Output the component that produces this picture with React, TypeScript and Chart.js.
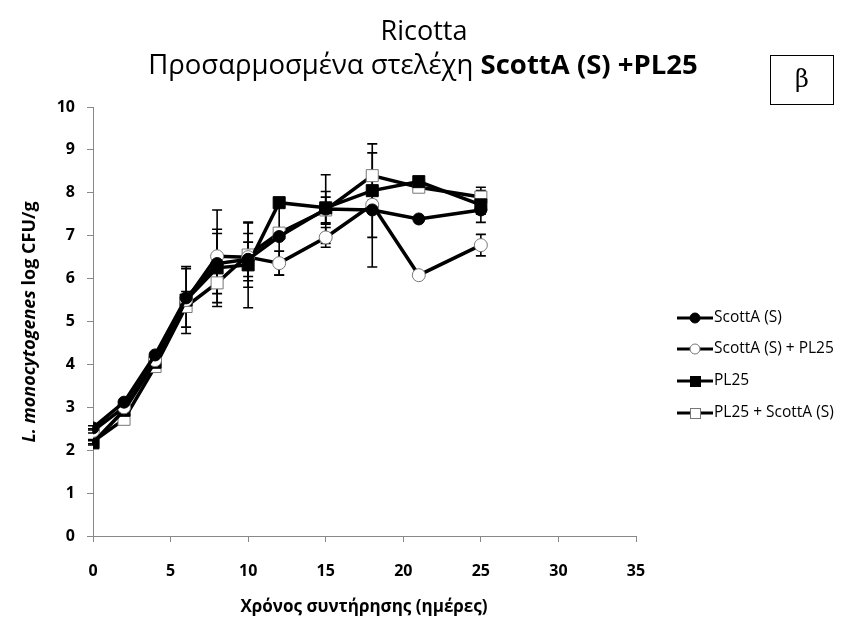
import React, { useEffect, useRef } from "react";
import { Chart, registerables } from "chart.js";
Chart.register(...registerables);

const days = [0, 2, 4, 6, 8, 10, 12, 15, 18, 21, 25];

const scottA = [2.52, 3.12, 4.22, 5.55, 6.35, 6.45, 6.98, 7.62, 7.6, 7.39, 7.6];
const scottASD = [0.05, 0.05, 0.05, 0.68, 0.7, 0.4, 0.9, 0.8, 1.33, 0, 0.1];

const scottAPL25 = [2.45, 3.0, 4.1, 5.5, 6.52, 6.5, 6.36, 6.96, 7.72, 6.08, 6.78];
const scottAPL25SD = [0.05, 0.05, 0.05, 0.2, 1.08, 0.55, 0.28, 0.23, 0.1, 0, 0.25];

const pl25 = [2.17, 2.93, 4.05, 5.5, 6.25, 6.32, 7.77, 7.65, 8.05, 8.26, 7.72];
const pl25SD = [0.05, 0.05, 0.05, 0.78, 0.9, 1.0, 0.05, 0.38, 1.09, 0, 0.41];

const pl25S = [2.2, 2.72, 3.95, 5.35, 5.9, 6.55, 7.06, 7.6, 8.4, 8.13, 7.9];
const pl25SSD = [0.05, 0.05, 0.05, 0.13, 0.1, 0.75, 0.05, 0.3, 0.1, 0, 0.15];

const seriesLabels = ["ScottA (S)", "ScottA (S) + PL25", "PL25", "PL25 + ScottA (S)"];
const titleLine1 = "Ricotta";
const titleLine2a = "Προσαρμοσμένα στελέχη ";
const titleLine2b = "ScottA (S) +PL25";
const yTitleA = "L. monocytogenes ";
const yTitleB = "log CFU/g";
const xTitle = "Χρόνος συντήρησης (ημέρες)";
const panelLabel = "β";

const FONT = "'Open Sans', 'Noto Sans', sans-serif";

const errorBarPlugin = {
  id: "errorBars",
  beforeDatasetsDraw(chart: any) {
    const ctx = chart.ctx;
    const xs = chart.scales.x;
    const ys = chart.scales.y;
    ctx.save();
    ctx.strokeStyle = "#000";
    ctx.lineWidth = 1.6;
    chart.data.datasets.forEach((ds: any) => {
      const sd: number[] = ds.sd || [];
      ds.data.forEach((p: any, i: number) => {
        const e = sd[i];
        if (!e) return;
        const px = xs.getPixelForValue(p.x);
        const top = ys.getPixelForValue(p.y + e);
        const bot = ys.getPixelForValue(p.y - e);
        ctx.beginPath();
        ctx.moveTo(px, top);
        ctx.lineTo(px, bot);
        ctx.moveTo(px - 5, top);
        ctx.lineTo(px + 5, top);
        ctx.moveTo(px - 5, bot);
        ctx.lineTo(px + 5, bot);
        ctx.stroke();
      });
    });
    ctx.restore();
  },
};

const decorPlugin = {
  id: "decor",
  afterDraw(chart: any) {
    const ctx = chart.ctx;
    ctx.save();
    ctx.fillStyle = "#000";
    ctx.textBaseline = "middle";
    // Title
    ctx.textAlign = "center";
    ctx.font = `27px ${FONT}`;
    ctx.fillText(titleLine1, 424, 32);
    ctx.font = `27.5px ${FONT}`;
    const wa = ctx.measureText(titleLine2a).width;
    ctx.font = `bold 27.5px ${FONT}`;
    const wb = ctx.measureText(titleLine2b).width;
    const start = 423 - (wa + wb) / 2;
    ctx.textAlign = "left";
    ctx.font = `27.5px ${FONT}`;
    ctx.fillText(titleLine2a, start, 66);
    ctx.font = `bold 27.5px ${FONT}`;
    ctx.fillText(titleLine2b, start + wa, 66);

    // panel label box
    ctx.strokeStyle = "#000";
    ctx.lineWidth = 1;
    ctx.strokeRect(770.5, 55.5, 63, 49);
    ctx.textAlign = "center";
    ctx.font = `24px 'DejaVu Serif', serif`;
    ctx.fillText(panelLabel, 802, 81);

    // Y title
    ctx.save();
    ctx.translate(30, 322);
    ctx.rotate(-Math.PI / 2);
    ctx.font = `italic bold 18px ${FONT}`;
    const ya = ctx.measureText(yTitleA).width;
    ctx.font = `bold 18px ${FONT}`;
    const yb = ctx.measureText(yTitleB).width;
    const ys0 = -(ya + yb) / 2;
    ctx.textAlign = "left";
    ctx.font = `italic bold 18px ${FONT}`;
    ctx.fillText(yTitleA, ys0, 0);
    ctx.font = `bold 18px ${FONT}`;
    ctx.fillText(yTitleB, ys0 + ya, 0);
    ctx.restore();

    // X title
    ctx.textAlign = "center";
    ctx.font = `bold 17px ${FONT}`;
    ctx.fillText(xTitle, 364, 607);

    // Legend
    const ly = [318, 349, 381, 413];
    chart.data.datasets.forEach((ds: any, i: number) => {
      const y = ly[i];
      ctx.strokeStyle = "#000";
      ctx.lineWidth = 3;
      ctx.beginPath();
      ctx.moveTo(677, y);
      ctx.lineTo(713, y);
      ctx.stroke();
      ctx.fillStyle = ds.pointBackgroundColor;
      ctx.strokeStyle = ds.pointBorderColor;
      ctx.lineWidth = 1;
      if (ds.pointStyle === "circle") {
        ctx.beginPath();
        ctx.arc(695, y, 5, 0, Math.PI * 2);
        ctx.fill();
        ctx.stroke();
      } else {
        ctx.fillRect(690, y - 5, 10, 10);
        ctx.strokeRect(690.5, y - 4.5, 10, 10);
      }
      ctx.fillStyle = "#000";
      ctx.textAlign = "left";
      ctx.font = `15.5px ${FONT}`;
      ctx.fillText(ds.label, 714, y);
    });
    ctx.restore();
  },
};

export default function App() {
  const ref = useRef<HTMLCanvasElement>(null);
  useEffect(() => {
    document.body.style.margin = "0";
    const canvas = ref.current!;
    const mk = (arr: number[]) => days.map((d, i) => ({ x: d, y: arr[i] }));
    const base = {
      borderColor: "#000",
      borderWidth: 3.5,
      tension: 0,
      fill: false,
      pointBorderWidth: 1,
    };
    const chart = new Chart(canvas, {
      type: "line",
      data: {
        datasets: [
          {
            ...base,
            label: seriesLabels[0],
            data: mk(scottA),
            sd: scottASD,
            pointStyle: "circle",
            pointRadius: 6,
            pointBackgroundColor: "#000",
            pointBorderColor: "#000",
          },
          {
            ...base,
            label: seriesLabels[1],
            data: mk(scottAPL25),
            sd: scottAPL25SD,
            pointStyle: "circle",
            pointRadius: 6.5,
            pointBackgroundColor: "#fff",
            pointBorderColor: "#777",
          },
          {
            ...base,
            label: seriesLabels[2],
            data: mk(pl25),
            sd: pl25SD,
            pointStyle: "rect",
            pointRadius: 8.5,
            pointBackgroundColor: "#000",
            pointBorderColor: "#000",
          },
          {
            ...base,
            label: seriesLabels[3],
            data: mk(pl25S),
            sd: pl25SSD,
            pointStyle: "rect",
            pointRadius: 8.5,
            pointBackgroundColor: "#fff",
            pointBorderColor: "#777",
          },
        ] as any,
      },
      options: {
        animation: false,
        responsive: false,
        devicePixelRatio: 1,
        layout: { padding: { left: 0, right: 211, top: 107, bottom: 0 } },
        plugins: { legend: { display: false }, title: { display: false }, tooltip: { enabled: false } },
        scales: {
          x: {
            type: "linear",
            min: 0,
            max: 35,
            ticks: {
              stepSize: 5,
              color: "#000",
              font: { family: FONT, weight: "bold", size: 16 },
              padding: 20,
            },
            grid: { drawOnChartArea: false, drawTicks: true, tickLength: 6, color: "#888" },
            border: { color: "#888", width: 1 },
            afterFit: (s: any) => {
              s.height = 88;
            },
          },
          y: {
            type: "linear",
            min: 0,
            max: 10,
            ticks: {
              stepSize: 1,
              color: "#000",
              font: { family: FONT, weight: "bold", size: 16 },
              padding: 12,
            },
            grid: { drawOnChartArea: false, drawTicks: true, tickLength: 6, color: "#888" },
            border: { color: "#888", width: 1 },
            afterFit: (s: any) => {
              s.width = 93;
            },
          },
        },
      } as any,
      plugins: [errorBarPlugin, decorPlugin],
    });
    return () => chart.destroy();
  }, []);
  return (
    <div style={{ position: "absolute", left: 0, top: 0, width: 847, height: 624, background: "#fff" }}>
      <canvas ref={ref} width={847} height={624} style={{ display: "block" }} />
    </div>
  );
}
